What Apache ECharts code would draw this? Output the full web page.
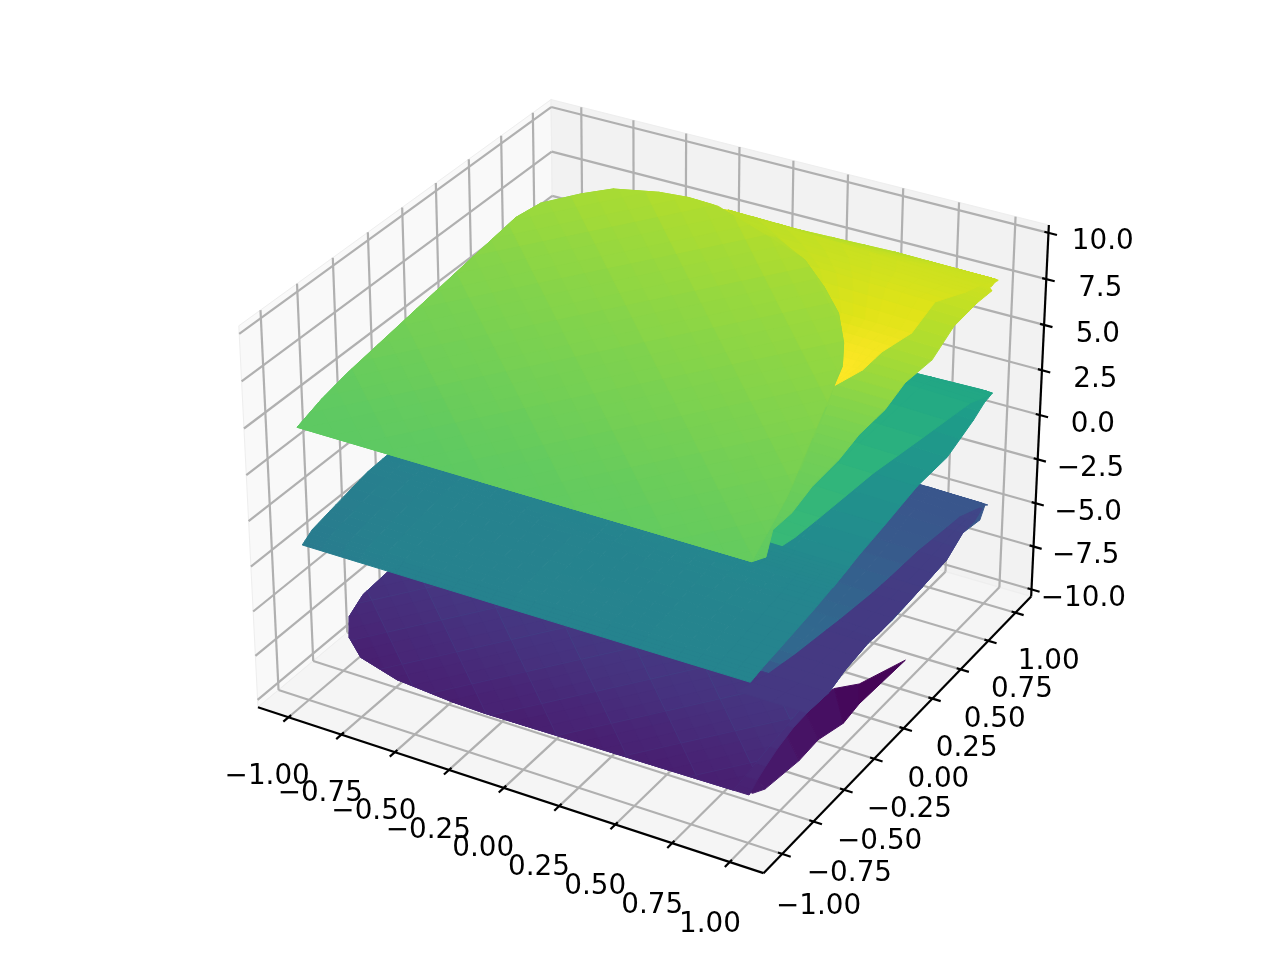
<!DOCTYPE html>
<html><head><meta charset="utf-8">
<style>html,body{margin:0;padding:0;background:#fff}#c{width:1280px;height:960px}</style>
<script src="https://cdn.jsdelivr.net/npm/echarts@6/dist/echarts.min.js"></script>
</head><body><div id="c"></div>
<script>
// ---- tick labels ----
const xTicks=[-1,-0.75,-0.5,-0.25,0,0.25,0.5,0.75,1];
const yTicks=[-1,-0.75,-0.5,-0.25,0,0.25,0.5,0.75,1];
const zTicks=[-10,-7.5,-5,-2.5,0,2.5,5,7.5,10];
const xyLabels=['\u22121.00','\u22120.75','\u22120.50','\u22120.25','0.00','0.25','0.50','0.75','1.00'];
const zLabels=['\u221210.0','\u22127.5','\u22125.0','\u22122.5','0.0','2.5','5.0','7.5','10.0'];
const viridis=['#440154','#471365','#482475','#463480','#414487','#3b528b','#355f8d','#2f6c8e','#2a788e','#25848e','#21918c','#1e9c89','#22a884','#2fb47c','#44bf70','#5ec962','#7ad151','#9bd93c','#bddf26','#dfe318','#fde725'];

// surface heights at the corners (x=1,y=-1), (x=-1,y=-1), (x=1,y=1)
const topCornerZ=[4.7,4.7,7.8];
const midCornerZ=[-1.65,-1.7,1.59];
const botCornerZ=[-7.76,-8.05,-4.72];

// ---- top surface: rim, bright far corner, dome ----
const topBaseY=[-1,-0.95,-0.785,-0.657,-0.477,-0.28,-0.105,0.08,0.265,0.44,0.667,0.837,0.93,0.945,0.952,0.986,1];
const topBaseStart=[-0.2,-0.2,-0.2,-0.2,-0.2,-0.2,-0.2,-0.2,-0.2,-0.2,-0.2,-0.2,-0.2,-0.152,0.159,0.556,0.97];
const topBaseEnd=[1,1.035,0.976,0.991,0.982,0.994,0.988,1.003,0.991,1.016,0.99,1,1.015,0.995,1,1,1.005];
const topBaseTone=[[.755,.755],[.755,.755],[.76,.76],[.765,.765],[.775,.775],[.785,.785],[.80,.80],[.82,.82],[.85,.85],[.872,.872],[.892,.892],[.91,.91],[.92,.92],[.925,.925],[.925,.925],[.925,.925],[.925,.925]];

const topGlowY=[0.123,0.268,0.4,0.558,0.772,0.88,0.945,0.952,0.986,1];
const topGlowStart=[0.7,0.6,0.5,0.4,0.2,0,-0.152,0.159,0.556,0.97];
const topGlowEnd=[0.75,0.804,0.816,0.863,0.85,0.928,0.96,0.965,0.99,1];
const topGlowTone=[[1,1,1,1],[.99,1,1,.99],[.96,.975,.985,.985],[.93,.945,.96,.965],[.91,.925,.94,.945],[.895,.915,.93,.93],[.89,.91,.925,.925],[.885,.91,.925,.925],[.88,.91,.92,.92],[.92,.92,.92,.92]];

const topDomeY=[-1,-0.8,-0.6,-0.4,-0.2,0,0.123,0.253,0.388,0.548,0.671,0.791,0.872,0.93,0.95];
const topDomeStart=[-1,-1,-0.989,-0.969,-0.949,-0.929,-0.917,-0.904,-0.89,-0.874,-0.83,-0.717,-0.62,-0.45,-0.33];
const topDomeEnd=[1,0.965,0.93,0.89,0.84,0.79,0.754,0.722,0.655,0.546,0.417,0.268,0.096,-0.14,-0.2];
const topDomeFlat=[
[.755,.755,.76,.76,.76,.76],[.76,.765,.77,.77,.77,.77],[.775,.78,.785,.785,.78,.78],
[.785,.79,.795,.795,.79,.79],[.79,.80,.80,.80,.80,.80],[.80,.805,.81,.81,.815,.815],
[.80,.81,.815,.82,.82,.825],[.805,.815,.82,.825,.83,.835],[.815,.82,.825,.835,.845,.85],
[.825,.83,.84,.85,.86,.865],[.84,.845,.855,.865,.87,.875],[.86,.865,.87,.875,.88,.885],
[.875,.88,.88,.885,.89,.895],[.885,.885,.89,.89,.895,.895]];
// diamond facets: one row per x+y band, one column per x-y band
const topFacetLattice=[-2.353,0.395,-2.224,0.354];
const topFacetTone=[
[.755,.755,.755,.755,.75,.75,.75,.75,.75,.75,.75,.75,.75],
[.78,.78,.772,.772,.76,.755,.75,.748,.75,.75,.75,.75,.75],
[.805,.80,.795,.787,.78,.77,.76,.752,.75,.752,.755,.755,.755],
[.825,.818,.81,.80,.792,.785,.775,.765,.757,.755,.755,.755,.755],
[.85,.838,.825,.815,.807,.80,.79,.78,.77,.762,.758,.758,.758],
[.873,.858,.845,.832,.822,.812,.803,.795,.785,.775,.768,.76,.76],
[.882,.879,.865,.85,.838,.828,.818,.808,.80,.79,.782,.773,.762],
[.884,.884,.884,.872,.857,.843,.832,.822,.813,.805,.796,.787,.776],
[.888,.888,.888,.892,.878,.862,.85,.838,.828,.82,.81,.80,.792],
[.892,.892,.892,.892,.892,.884,.869,.855,.844,.832,.823,.814,.805],
[.888,.888,.888,.888,.888,.888,.888,.875,.861,.848,.839,.829,.82],
[.888,.888,.888,.888,.888,.888,.888,.883,.879,.869,.859,.85,.84]];

// ---- middle surface ----
const midMainY=[-1,-0.9,-0.723,-0.487,-0.36,-0.284,-0.2];
const midMainStart=[-1,-1.01,-1,-0.985,-0.965,-0.95,-0.93];
const midMainEnd=[1,1,1.005,1.01,1.01,1.01,1.01];
const midMainTone=[[.41,.435,.44,.445,.445,.45,.45],[.415,.44,.44,.445,.445,.45,.45],[.42,.44,.44,.445,.445,.45,.45],[.43,.44,.44,.445,.45,.455,.455],[.435,.44,.445,.45,.455,.46,.46],[.44,.44,.45,.455,.46,.465,.465],[.44,.445,.455,.46,.465,.47,.47]];

const midBackY=[-0.34,-0.118,0.093,0.361,0.57,0.82,0.933,0.967,1];
const midBackStart=[0.5,0.5,0.5,0.5,0.5,0.5,0.5,0.5,0.95];
const midBackEnd=[1.012,1.008,1.01,1.01,1.03,1.013,1,1,1];
const midBackTone=[[.46,.46],[.48,.48],[.49,.49],[.51,.51],[.525,.525],[.55,.55],[.57,.57],[.58,.58],[.58,.58]];

const midBandY=[-0.295,-0.126,0.027,0.358,0.641,0.908,0.967,1];
const midBandStart=[0.5,0.5,0.5,0.5,0.5,0.5,0.5,0.95];
const midBandEnd=[0.677,0.728,0.757,0.815,0.886,0.951,0.985,1];
const midBandTone=[[.68,.68],[.67,.67],[.665,.665],[.65,.65],[.625,.625],[.6,.6],[.595,.595],[.59,.59]];

// ---- bottom surface ----
const botMainY=[-1,-0.992,-0.964,-0.903,-0.813,-0.698,-0.553,-0.384,-0.3];
const botMainStart=[-0.2,-0.351,-0.614,-0.81,-0.911,-0.973,-0.988,-0.966,-0.94];
const botMainEnd=[1,1,0.995,0.985,0.975,0.965,0.96,0.97,0.984];
const botMainFlat=[[.085,.085,.085,.085,.085,.09],[.085,.085,.085,.085,.085,.09],[.09,.09,.09,.09,.09,.095],[.095,.095,.10,.10,.10,.105],[.105,.11,.11,.11,.115,.12],[.12,.125,.125,.125,.13,.13],[.13,.145,.145,.145,.145,.145],[.14,.16,.16,.16,.16,.16]];
const botFacetClipEnd=[0.93,0.93,0.93,0.93,0.93,0.93,0.93,0.93,0.93];
const botFacetLattice=[-2.15,0.32,-0.67,0.3];
const botFacetTone=[
[.12,.10,.085,.085,.085,.085,.085,.085,.085],
[.125,.11,.09,.085,.085,.085,.085,.085,.085],
[.145,.132,.117,.10,.085,.085,.085,.085,.085],
[.165,.155,.14,.124,.102,.085,.085,.085,.085],
[.165,.165,.16,.145,.125,.103,.085,.085,.085],
[.165,.165,.165,.16,.147,.127,.104,.086,.085],
[.165,.165,.165,.165,.16,.148,.128,.105,.087],
[.165,.165,.165,.165,.165,.16,.148,.13,.107],
[.165,.165,.165,.165,.165,.165,.16,.15,.13]];

const botBackY=[-0.45,-0.3,-0.149,0.039,0.206,0.438,0.628,0.803,0.904,0.995,1];
const botBackStart=[0.5,0.5,0.5,0.5,0.5,0.5,0.5,0.5,0.5,0.5,0.95];
const botBackEnd=[0.965,0.984,0.976,0.979,0.998,1.008,1.015,0.993,1.016,0.99,1];
const botBackTone=[[.18,.18],[.27,.27],[.335,.335],[.335,.335],[.32,.32],[.30,.30],[.28,.28],[.27,.27],[.265,.265],[.265,.265],[.265,.265]];

const botEdgeY=[-0.45,-0.3,-0.149,0.039,0.116,0.32,0.438,0.628,0.803,0.887,0.97];
const botEdgeStart=[0.65,0.71,0.75,0.79,0.807,0.846,0.863,0.886,0.92,0.935,0.98];
const botEdgeEnd=[0.965,0.984,0.976,0.979,0.99,1.003,1.008,1.015,0.993,1,0.99];
const botEdgeTone=[[.16,.16],[.165,.165],[.165,.165],[.165,.165],[.17,.17],[.17,.17],[.175,.175],[.18,.18],[.19,.19],[.2,.2],[.21,.21]];

// the lower fold along x=1: how far it hangs below the bottom surface
const flapY=[-0.97,-0.866,-0.58,-0.42,-0.21,-0.076,0.31];
const flapUpperX=[0.93,0.93,0.93,0.93,0.96,1,1];
const flapUpperDrop=[0,0,0,0,0.61,1.3,3.16];
const flapLowerDrop=[0.15,0.75,1.48,1.62,2.42,2.42,3.16];
const flapTone=[.07,.065,.05,.04,.02,.01];

// ---- view ----
const elev=30, azim=-60, dist=10;
const boxXY=0.595, boxZ=0.4465, limXY=1.1, limZ=10, paneXY=1.146, paneZ=10.417;
const ca=Math.cos(azim*Math.PI/180), sa=Math.sin(azim*Math.PI/180), ce=Math.cos(elev*Math.PI/180), se=Math.sin(elev*Math.PI/180);
function project(x,y,z){
  const X=x/limXY*boxXY, Y=y/limXY*boxXY, Z=z/limZ*boxZ;
  const u=-sa*X+ca*Y;
  const v=-se*ca*X-se*sa*Y+ce*Z;
  const w=ce*ca*X+ce*sa*Y+se*Z;
  const d=dist-w;
  return [u/d,v/d];
}
function tone(t){
  const p=Math.max(0,Math.min(1,t))*(viridis.length-1), i=Math.min(viridis.length-2,Math.floor(p)), f=p-i;
  const a=echarts.color.parse(viridis[i]), b=echarts.color.parse(viridis[i+1]);
  return 'rgb('+[0,1,2].map(k=>Math.round(a[k]+(b[k]-a[k])*f)).join(',')+')';
}
// a sheet spans the three projected corners; (x,y) run over it, drop lowers a node in z units
function sheetPoint(corners,x,y,drop){
  const F=project(1,-1,corners[0]),L=project(-1,-1,corners[1]),R=project(1,1,corners[2]);
  const a=(x-1)/2,b=(y+1)/2;
  const q=[F[0]+a*(F[0]-L[0])+b*(R[0]-F[0]),F[1]+a*(F[1]-L[1])+b*(R[1]-F[1])];
  if(drop){
    const p0=project(x,y,corners[0]),p1=project(x,y,corners[0]-drop);
    q[1]+=p1[1]-p0[1];
  }
  return q;
}
function flatCells(ys,start,end,tones){
  const out=[];
  for(let r=0;r<tones.length;r++){
    const n=tones[r].length;
    for(let c=0;c<n;c++){
      const f0=c/n,f1=(c+1)/n;
      out.push({t:tones[r][c],pts:[
        [start[r]+(end[r]-start[r])*f0,ys[r]],[start[r]+(end[r]-start[r])*f1,ys[r]],
        [start[r+1]+(end[r+1]-start[r+1])*f1,ys[r+1]],[start[r+1]+(end[r+1]-start[r+1])*f0,ys[r+1]]]});
    }
  }
  return out;
}
function shadedCells(ys,start,end,tones,sub){
  const out=[];
  const at=(r,f)=>start[r]+(end[r]-start[r])*f;
  for(let r=0;r<tones.length-1;r++){
    const n=tones[r].length-1;
    for(let c=0;c<n;c++){
      for(let i=0;i<sub;i++)for(let j=0;j<sub;j++){
        const s0=i/sub,s1=(i+1)/sub,w0=j/sub,w1=(j+1)/sub;
        const node=(s,w)=>{
          const f=(c+s)/n;
          return [at(r,f)+(at(r+1,f)-at(r,f))*w, ys[r]+(ys[r+1]-ys[r])*w];
        };
        const sm=(s0+s1)/2,wm=(w0+w1)/2;
        const t=(tones[r][c]*(1-sm)+tones[r][c+1]*sm)*(1-wm)+(tones[r+1][c]*(1-sm)+tones[r+1][c+1]*sm)*wm;
        out.push({t,pts:[node(s0,w0),node(s1,w0),node(s1,w1),node(s0,w1)]});
      }
    }
  }
  return out;
}
function clipToOutline(poly,outline){
  let res=poly;
  for(let i=0;i<outline.length&&res.length;i++){
    const a=outline[i],b=outline[(i+1)%outline.length];
    const side=p=>(b[0]-a[0])*(p[1]-a[1])-(b[1]-a[1])*(p[0]-a[0]);
    const next=[];
    for(let k=0;k<res.length;k++){
      const p=res[k],q=res[(k+1)%res.length],sp=side(p),sq=side(q);
      if(sp>=0)next.push(p);
      if((sp>=0)!==(sq>=0)){const f=sp/(sp-sq);next.push([p[0]+(q[0]-p[0])*f,p[1]+(q[1]-p[1])*f]);}
    }
    res=next;
  }
  return res;
}
// facets are flat in the table; sub>1 softens them towards the neighbouring facets
function facetCells(ys,start,end,table,lattice,sub){
  const outline=[];
  for(let i=0;i<ys.length;i++)outline.push([start[i],ys[i]]);
  for(let i=ys.length-1;i>=0;i--)outline.push([end[i],ys[i]]);
  outline.reverse();
  const out=[];
  const cell=(j,k)=>table[Math.max(0,Math.min(table.length-1,j))][Math.max(0,Math.min(table[0].length-1,k))];
  const smooth=(u,v)=>{
    const j=Math.floor(u-0.5),k=Math.floor(v-0.5),fu=u-0.5-j,fv=v-0.5-k;
    return (cell(j,k)*(1-fv)+cell(j,k+1)*fv)*(1-fu)+(cell(j+1,k)*(1-fv)+cell(j+1,k+1)*fv)*fu;
  };
  const xy=(p,q)=>[(p+q)/2,(p-q)/2];
  table.forEach((row,j)=>row.forEach((t,k)=>{
    for(let a=0;a<sub;a++)for(let b=0;b<sub;b++){
      const p0=lattice[0]+(j+a/sub)*lattice[1],p1=lattice[0]+(j+(a+1)/sub)*lattice[1];
      const q0=lattice[2]+(k+b/sub)*lattice[3],q1=lattice[2]+(k+(b+1)/sub)*lattice[3];
      const poly=clipToOutline([xy(p0,q0),xy(p1,q0),xy(p1,q1),xy(p0,q1)],outline);
      const tt=sub>1?0.35*t+0.65*smooth(j+(a+0.5)/sub,k+(b+0.5)/sub):t;
      if(poly.length>2)out.push({t:tt,pts:poly});
    }
  }));
  return out;
}
function flapCells(){
  const out=[];
  for(let i=0;i<flapTone.length;i++){
    out.push({t:flapTone[i],pts:[[flapUpperX[i],flapY[i],flapUpperDrop[i]],[1,flapY[i],flapLowerDrop[i]],[1,flapY[i+1],flapLowerDrop[i+1]],[flapUpperX[i+1],flapY[i+1],flapUpperDrop[i+1]]]});
  }
  return out;
}
function surface(polys,corners,z,seam){
  return {type:'custom',silent:true,clip:false,animation:false,z:z,data:polys.map(p=>[p.t]),renderItem:(params,api)=>{
    const poly=polys[params.dataIndex];
    const pts=poly.pts.map(n=>api.coord(sheetPoint(corners,n[0],n[1],n[2]||0)));
    const col=tone(api.value(0));
    if(seam){
      return {type:'polygon',shape:{points:pts},style:{fill:'transparent',stroke:tone(api.value(0)+seam),lineWidth:1,opacity:0.55}};
    }
    return {type:'polygon',shape:{points:pts},style:{fill:col,stroke:col,lineWidth:1}};
  }};
}
const P=paneXY,PZ=paneZ;
const paneColors=['#f9f9f9','#f2f2f2','#f5f5f5'];
const paneData=[
  [-P,-P,-PZ,-P,P,-PZ,-P,P,PZ,-P,-P,PZ],
  [-P,P,-PZ,P,P,-PZ,P,P,PZ,-P,P,PZ],
  [-P,-P,-PZ,P,-P,-PZ,P,P,-PZ,-P,P,-PZ]
];
const gridData=[];
xTicks.forEach(t=>{gridData.push([t,-P,-PZ,t,P,-PZ]);gridData.push([t,P,-PZ,t,P,PZ]);});
yTicks.forEach(t=>{gridData.push([P,t,-PZ,-P,t,-PZ]);gridData.push([-P,t,-PZ,-P,t,PZ]);});
zTicks.forEach(t=>{gridData.push([-P,-P,t,-P,P,t]);gridData.push([-P,P,t,P,P,t]);});
const axisData=[[-P,-P,-PZ,P,-P,-PZ],[P,-P,-PZ,P,P,-PZ],[P,P,-PZ,P,P,PZ]];
const tickOut=0.037,tickIn=0.018;
const tickData=[];
xTicks.forEach(t=>tickData.push([t,-P+tickIn,-PZ,t,-P-tickOut,-PZ]));
yTicks.forEach(t=>tickData.push([P-tickIn,t,-PZ,P+tickOut,t,-PZ]));
zTicks.forEach(t=>tickData.push([P-tickIn,P,t,P+tickOut,P,t]));
const labelData=[],labelText=[];
xTicks.forEach((t,i)=>{labelData.push([t+0.04,-P-0.22,-PZ-1.7]);labelText.push(xyLabels[i]);});
yTicks.forEach((t,i)=>{labelData.push([P+0.16,t,-PZ-2.27]);labelText.push(xyLabels[i]);});
zTicks.forEach((t,i)=>{labelData.push([P+0.213,P+0.05,t-0.1]);labelText.push(zLabels[i]);});
function lineSeries(data,color,width,z){
  return {type:'custom',silent:true,clip:false,animation:false,z:z,data:data,renderItem:(p,api)=>{
    const a=api.coord(project(api.value(0),api.value(1),api.value(2)));
    const b=api.coord(project(api.value(3),api.value(4),api.value(5)));
    return {type:'line',shape:{x1:a[0],y1:a[1],x2:b[0],y2:b[1]},style:{stroke:color,lineWidth:width}};
  }};
}
const option={
  backgroundColor:'#ffffff',
  animation:false,
  grid:{left:0,right:0,top:0,bottom:0,containLabel:false},
  xAxis:{type:'value',min:-0.13961,max:0.13448,show:false},
  yAxis:{type:'value',min:-0.10557,max:0.1,show:false},
  series:[
    {type:'custom',silent:true,clip:false,animation:false,z:1,data:paneData,renderItem:(p,api)=>{
      const pts=[];for(let i=0;i<4;i++)pts.push(api.coord(project(api.value(i*3),api.value(i*3+1),api.value(i*3+2))));
      return {type:'polygon',shape:{points:pts},style:{fill:paneColors[p.dataIndex],stroke:'#eeeeee',lineWidth:1}};
    }},
    lineSeries(gridData,'#b0b0b0',2.2,2),
    lineSeries(axisData,'#000000',2.2,3),
    lineSeries(tickData,'#000000',2.2,3),
    surface(flapCells(),botCornerZ,4),
    surface(shadedCells(botBackY,botBackStart,botBackEnd,botBackTone,2),botCornerZ,5),
    surface(flatCells(botMainY,botMainStart,botMainEnd,botMainFlat),botCornerZ,6),
    surface(facetCells(botMainY,botMainStart,botFacetClipEnd,botFacetTone,botFacetLattice,3),botCornerZ,6),
    surface(facetCells(botMainY,botMainStart,botFacetClipEnd,botFacetTone,botFacetLattice,1),botCornerZ,6,0.03),
    surface(shadedCells(botEdgeY,botEdgeStart,botEdgeEnd,botEdgeTone,2),botCornerZ,6),
    surface(shadedCells(midBackY,midBackStart,midBackEnd,midBackTone,2),midCornerZ,7),
    surface(shadedCells(midBandY,midBandStart,midBandEnd,midBandTone,2),midCornerZ,7),
    surface(shadedCells(midMainY,midMainStart,midMainEnd,midMainTone,4),midCornerZ,8),
    surface(shadedCells(topBaseY,topBaseStart,topBaseEnd,topBaseTone,3),topCornerZ,9),
    surface(shadedCells(topGlowY,topGlowStart,topGlowEnd,topGlowTone,3),topCornerZ,10),
    surface(flatCells(topDomeY,topDomeStart,topDomeEnd,topDomeFlat),topCornerZ,11),
    surface(facetCells(topDomeY,topDomeStart,topDomeEnd,topFacetTone,topFacetLattice,3),topCornerZ,11),
    {type:'custom',silent:true,clip:false,animation:false,z:12,data:labelData,renderItem:(p,api)=>{
      const a=api.coord(project(api.value(0),api.value(1),api.value(2)));
      return {type:'text',x:a[0],y:a[1],style:{text:labelText[p.dataIndex],fill:'#000',font:'27.8px "DejaVu Sans"',align:'center',verticalAlign:'middle'}};
    }}
  ]
};
const chart=echarts.init(document.getElementById('c'),null,{renderer:'canvas'});
chart.setOption(option);
</script></body></html>
